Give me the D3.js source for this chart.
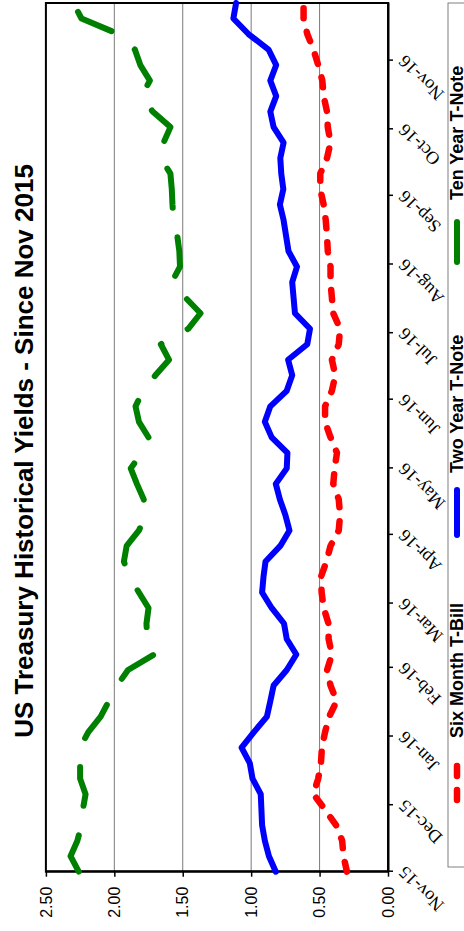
<!DOCTYPE html>
<html>
<head>
<meta charset="utf-8">
<script src="https://cdn.jsdelivr.net/npm/d3@7"></script>
<style>
  body { margin: 0; background: #fff; }
  svg { display: block; }
</style>
</head>
<body>
<div id="chart"></div>
<script>
// weekly observations
const dates = [
  "2015-11-01","2015-11-08","2015-11-15","2015-11-22","2015-11-29","2015-12-06","2015-12-13","2015-12-20","2015-12-27",
  "2016-01-03","2016-01-10","2016-01-17","2016-01-24","2016-01-31","2016-02-07","2016-02-14","2016-02-21","2016-02-28",
  "2016-03-06","2016-03-13","2016-03-20","2016-03-27","2016-04-03","2016-04-10","2016-04-17","2016-04-24",
  "2016-05-01","2016-05-08","2016-05-15","2016-05-22","2016-05-29","2016-06-05","2016-06-12","2016-06-19","2016-06-26",
  "2016-07-03","2016-07-10","2016-07-17","2016-07-24","2016-07-31","2016-08-07","2016-08-14","2016-08-21","2016-08-28",
  "2016-09-04","2016-09-11","2016-09-18","2016-09-25","2016-10-02","2016-10-09","2016-10-16","2016-10-23","2016-10-30",
  "2016-11-06","2016-11-13","2016-11-20","2016-11-27"
];
const sixMonth = [0.30,0.325,0.335,0.38,0.46,0.545,0.51,0.49,0.483,0.46,
  0.43,0.375,0.42,0.445,0.41,0.434,0.435,0.47,0.485,0.49,
  0.45,0.42,0.36,0.35,0.36,0.40,0.39,0.373,0.42,0.46,
  0.46,0.41,0.385,0.41,0.36,0.35,0.40,0.41,0.42,0.42,
  0.44,0.446,0.455,0.47,0.495,0.495,0.446,0.42,0.44,0.446,
  0.47,0.48,0.51,0.545,0.59,0.617,0.617];
const twoYear = [0.82,0.87,0.90,0.92,0.925,0.93,0.99,1.01,1.07,0.98,
  0.885,0.86,0.836,0.74,0.67,0.74,0.76,0.85,0.92,0.91,
  0.895,0.787,0.72,0.75,0.79,0.82,0.74,0.735,0.85,0.90,
  0.86,0.74,0.70,0.73,0.59,0.57,0.68,0.69,0.70,0.665,
  0.727,0.745,0.763,0.79,0.765,0.78,0.787,0.763,0.836,0.86,
  0.817,0.86,0.817,0.873,1.02,1.13,1.11];
const tenYear = [2.26,2.32,2.27,2.24,2.23,2.21,2.25,2.25,2.25,2.19,
  2.10,2.04,1.98,1.90,1.71,1.76,1.765,1.75,1.82,1.89,
  1.93,1.91,1.82,1.77,1.785,1.835,1.88,1.80,1.75,1.82,
  1.845,1.79,1.70,1.60,1.66,1.46,1.37,1.48,1.58,1.52,
  1.525,1.54,1.567,1.575,1.58,1.59,1.66,1.64,1.59,1.72,
  1.80,1.74,1.81,1.85,1.97,2.24,2.30];
const monthTicks = ["2015-11-01","2015-12-01","2016-01-01","2016-02-01","2016-03-01","2016-04-01","2016-05-01",
  "2016-06-01","2016-07-01","2016-08-01","2016-09-01","2016-10-01","2016-11-01"];
const yTicks = [0, 0.5, 1, 1.5, 2, 2.5];
const gridValues = [0.5, 1, 1.5, 2];
const seriesNames = ["Six Month T-Bill", "Two Year T-Note", "Ten Year T-Note"];

const W = 931, H = 464;          // chart drawn landscape, then turned
const plotLeft = 59.3, plotRight = 928, plotTop = 45.9, plotBottom = 388;
const parse = d3.timeParse("%Y-%m-%d");

const svg = d3.select("#chart").append("svg")
  .attr("width", 464).attr("height", 931);

const g = svg.append("g")
  .attr("transform", `translate(0,${W}) rotate(-90)`);

const x = d3.scaleTime()
  .domain([parse("2015-11-01"), parse("2016-11-27")])
  .range([plotLeft, plotRight]);
const y = d3.scaleLinear().domain([0, 2.5]).range([plotBottom, plotTop]);

// gridlines
g.append("g").selectAll("line")
  .data(gridValues)
  .join("line")
  .attr("x1", plotLeft).attr("x2", plotRight)
  .attr("y1", d => y(d)).attr("y2", d => y(d))
  .attr("stroke", "#7a7a7a").attr("stroke-width", 1);

// plot frame
g.append("rect")
  .attr("x", plotLeft).attr("y", plotTop)
  .attr("width", plotRight - plotLeft).attr("height", plotBottom - plotTop)
  .attr("fill", "none").attr("stroke", "#000").attr("stroke-width", 2);

// axes
const yAxis = g.append("g")
  .attr("transform", `translate(${plotLeft},0)`)
  .call(d3.axisLeft(y).tickValues(yTicks).tickFormat(d3.format(".2f"))
    .tickSize(5).tickSizeOuter(0).tickPadding(10));
yAxis.selectAll("text")
  .attr("font-family", "'Liberation Sans', Arial, sans-serif")
  .attr("font-size", 16).attr("fill", "#000");

const xAxis = g.append("g")
  .attr("transform", `translate(0,${plotBottom})`)
  .call(d3.axisBottom(x).tickValues(monthTicks.map(parse))
    .tickFormat(d3.timeFormat("%b-%y")).tickSize(5).tickSizeOuter(0));
xAxis.selectAll("text")
  .attr("y", 0).attr("dy", 0)
  .attr("text-anchor", "end")
  .attr("transform", "translate(6,18) rotate(-45)")
  .attr("font-family", "'Liberation Serif', 'Times New Roman', serif")
  .attr("font-size", 18).attr("fill", "#000");

[yAxis, xAxis].forEach(a => {
  a.select(".domain").attr("stroke-width", 2);
  a.selectAll(".tick line").attr("stroke-width", 1.5);
});

// series
const styles = [
  { values: sixMonth, color: "#ff0000", width: 6.5, dash: "10,14" },
  { values: twoYear, color: "#0000ff", width: 6, dash: null },
  { values: tenYear, color: "#008000", width: 6, dash: "40,30" }
];

const line = d3.line()
  .x(d => x(d.date))
  .y(d => y(d.value));

styles.forEach(s => {
  const pts = dates.map((d, i) => ({ date: parse(d), value: s.values[i] }));
  g.append("path")
    .datum(pts)
    .attr("d", line)
    .attr("fill", "none")
    .attr("stroke", s.color)
    .attr("stroke-width", s.width)
    .attr("stroke-linecap", "round")
    .attr("stroke-linejoin", "round")
    .attr("stroke-dasharray", s.dash);
});

// title
g.append("text")
  .attr("x", 480).attr("y", 33)
  .attr("text-anchor", "middle")
  .attr("font-family", "'Liberation Sans', Arial, sans-serif")
  .attr("font-weight", "bold").attr("font-size", 26)
  .text("US Treasury Historical Yields - Since Nov 2015");

// legend
const legend = g.append("g");
legend.append("rect")
  .attr("x", 64).attr("y", 448).attr("width", 864).attr("height", 60)
  .attr("fill", "#fff").attr("stroke", "#808080").attr("stroke-width", 1);

const legendStarts = [128, 393, 666];
seriesNames.forEach((name, i) => {
  const s = styles[i];
  const x0 = legendStarts[i];
  legend.append("line")
    .attr("x1", x0 + 3).attr("x2", x0 + 48)
    .attr("y1", 457).attr("y2", 457)
    .attr("stroke", s.color).attr("stroke-width", s.width)
    .attr("stroke-linecap", "round")
    .attr("stroke-dasharray", s.dash);
  legend.append("text")
    .attr("x", x0 + 65).attr("y", 463)
    .attr("font-family", "'Liberation Sans', Arial, sans-serif")
    .attr("font-weight", "bold").attr("font-size", 18)
    .text(name);
});
</script>
</body>
</html>
